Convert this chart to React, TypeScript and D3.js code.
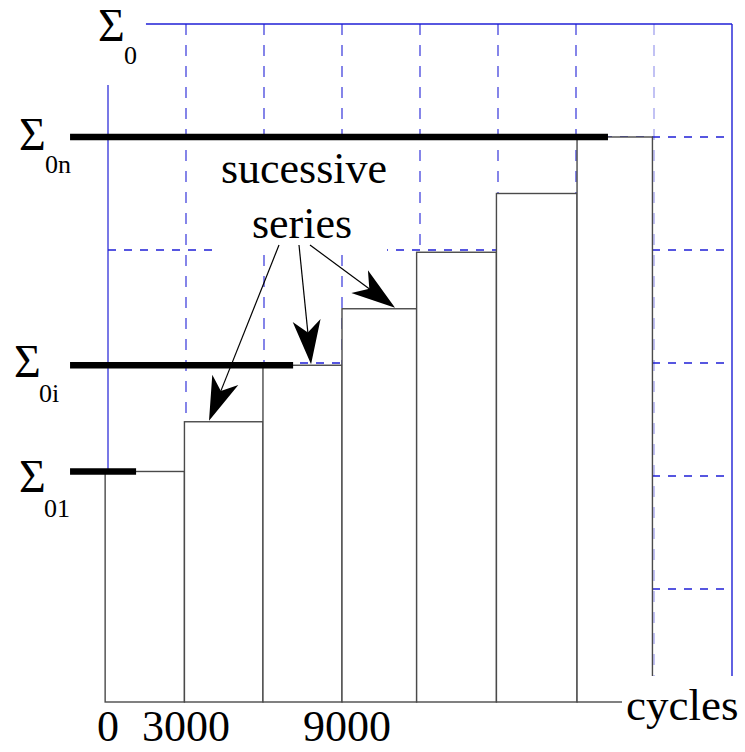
import React from "react";
import * as d3 from "d3";

// ---- data ----
const seriesValues = [2.04, 2.48, 2.98, 3.48, 3.98, 4.5, 5.0]; // stress level of each successive series
const barEdges = [-110, 2940, 5960, 9000, 11870, 14940, 18040, 20940]; // cycles
const gridCycles = [0, 3000, 6000, 9000, 12000, 15000, 18000, 21000, 24000];
const gridLevels = [1, 2, 3, 4, 5];
const xTickValues = [0, 3000, 9000];
const xTickLabels = ["0", "3000", "9000"];
const thickStart = -1460;
const thickSeries = [0, 2, 6]; // index into seriesValues
const thickEnds = [1080, 7120, 19230];
const arrowStarts = [[6577, 4.044], [7346, 4.044], [7769, 4.044]];
const arrowTargets = [[3885, 1], [7810, 2], [11040, 3]]; // [cycles, series index]
const sigmaLabels = [
  { sub: "0", level: 6, x: 98, subX: 124, dy: 17, subDy: 40 },
  { sub: "0n", level: 5.0, x: 19, subX: 45, dy: 13, subDy: 36 },
  { sub: "0i", level: 2.98, x: 14, subX: 39, dy: 12, subDy: 37 },
  { sub: "01", level: 2.04, x: 19, subX: 44, dy: 21, subDy: 46 },
];

export default function App() {
  const W = 745, H = 752;
  const x = d3.scaleLinear().domain([0, 24000]).range([108, 732]);
  const y = d3.scaleLinear().domain([0, 6]).range([702, 24]);
  const blue = "#1f1fd6";
  const font = "'Liberation Serif', 'Times New Roman', serif";

  const arrowHead = (x1: number, y1: number, x2: number, y2: number) => {
    const dx = x2 - x1, dy = y2 - y1;
    const L = Math.hypot(dx, dy);
    const ux = dx / L, uy = dy / L;
    const px = -uy, py = ux;
    const len = 44, hw = 14, notch = 32;
    const bx = x2 - ux * len, by = y2 - uy * len;
    const nx = x2 - ux * notch, ny = y2 - uy * notch;
    return `M${x2},${y2} L${bx + px * hw},${by + py * hw} L${nx},${ny} L${bx - px * hw},${by - py * hw} Z`;
  };

  return (
    <svg width={W} height={H} style={{ position: "absolute", left: 0, top: 0, background: "#fff" }}>
      <rect x={0} y={0} width={W} height={H} fill="#fff" />
      {/* grid */}
      <g>
        <line x1={x(1460)} x2={x(24000)} y1={y(6)} y2={y(6)} stroke={blue} strokeWidth={1.4} />
        {gridLevels.map((l) => (
          <line key={"h" + l} x1={x(0)} x2={x(24000)} y1={y(l)} y2={y(l)} stroke={blue} strokeWidth={1.3} strokeDasharray="8 8" />
        ))}
        {gridCycles.map((c, i) => {
          if (i === 0)
            return <line key={"v" + c} x1={x(c)} x2={x(c)} y1={y(5.46)} y2={y(0)} stroke={blue} strokeWidth={1.5} strokeOpacity={0.8} />;
          if (i === gridCycles.length - 1)
            return <line key={"v" + c} x1={x(c)} x2={x(c)} y1={y(6)} y2={y(0)} stroke={blue} strokeWidth={1.4} />;
          return (
            <line key={"v" + c} x1={x(c)} x2={x(c)} y1={y(6)} y2={y(0)} stroke={blue} strokeWidth={1.2}
              strokeDasharray="11 10" strokeOpacity={i === gridCycles.length - 2 ? 0.45 : 0.9} />
          );
        })}
      </g>
      {/* white box behind annotation text */}
      <rect x={215} y={139} width={172} height={112.5} fill="#fff" />
      {/* white box behind Σ0 */}
      <rect x={88} y={0} width={57} height={83} fill="#fff" />
      {/* bars */}
      <g>
        {seriesValues.map((v, i) => (
          <rect key={"b" + i} x={x(barEdges[i])} y={y(v)} width={x(barEdges[i + 1]) - x(barEdges[i])} height={y(0) - y(v)}
            fill="#fff" stroke="#4a4a4a" strokeWidth={1.4} />
        ))}
      </g>
      {/* thick level lines */}
      {thickSeries.map((si, i) => (
        <line key={"t" + i} x1={x(thickStart)} x2={x(thickEnds[i])} y1={y(seriesValues[si])} y2={y(seriesValues[si])}
          stroke="#000" strokeWidth={6.5} />
      ))}
      {/* annotation */}
      <text x={304} y={183} fontFamily={font} fontSize={44} textAnchor="middle" fill="#000">sucessive</text>
      <text x={302} y={238} fontFamily={font} fontSize={44} textAnchor="middle" fill="#000">series</text>
      {arrowStarts.map((s, i) => {
        const x1 = x(s[0]), y1 = y(s[1]);
        const x2 = x(arrowTargets[i][0]), y2 = y(seriesValues[arrowTargets[i][1]]) - 1;
        const L = Math.hypot(x2 - x1, y2 - y1);
        const ex = x2 - ((x2 - x1) / L) * 30, ey = y2 - ((y2 - y1) / L) * 30;
        return (
          <g key={"a" + i}>
            <line x1={x1} y1={y1} x2={ex} y2={ey} stroke="#000" strokeWidth={1.2} />
            <path d={arrowHead(x1, y1, x2, y2)} fill="#000" />
          </g>
        );
      })}
      {/* Σ labels */}
      {sigmaLabels.map((s, i) => (
        <g key={"s" + i} fontFamily={font} fill="#000">
          <text x={s.x} y={y(s.level) + s.dy} fontSize={46}>Σ</text>
          <text x={s.subX} y={y(s.level) + s.subDy} fontSize={26}>{s.sub}</text>
        </g>
      ))}
      {/* x axis labels */}
      {xTickValues.map((v, i) => (
        <text key={"xt" + i} x={x(v) + (i === 2 ? 5 : 0)} y={741} fontFamily={font} fontSize={44} textAnchor="middle" fill="#000">{xTickLabels[i]}</text>
      ))}
      {/* cycles label with white box */}
      <rect x={622} y={676} width={123} height={76} fill="#fff" />
      <text x={626} y={720} fontFamily={font} fontSize={45} fill="#000">cycles</text>
    </svg>
  );
}
